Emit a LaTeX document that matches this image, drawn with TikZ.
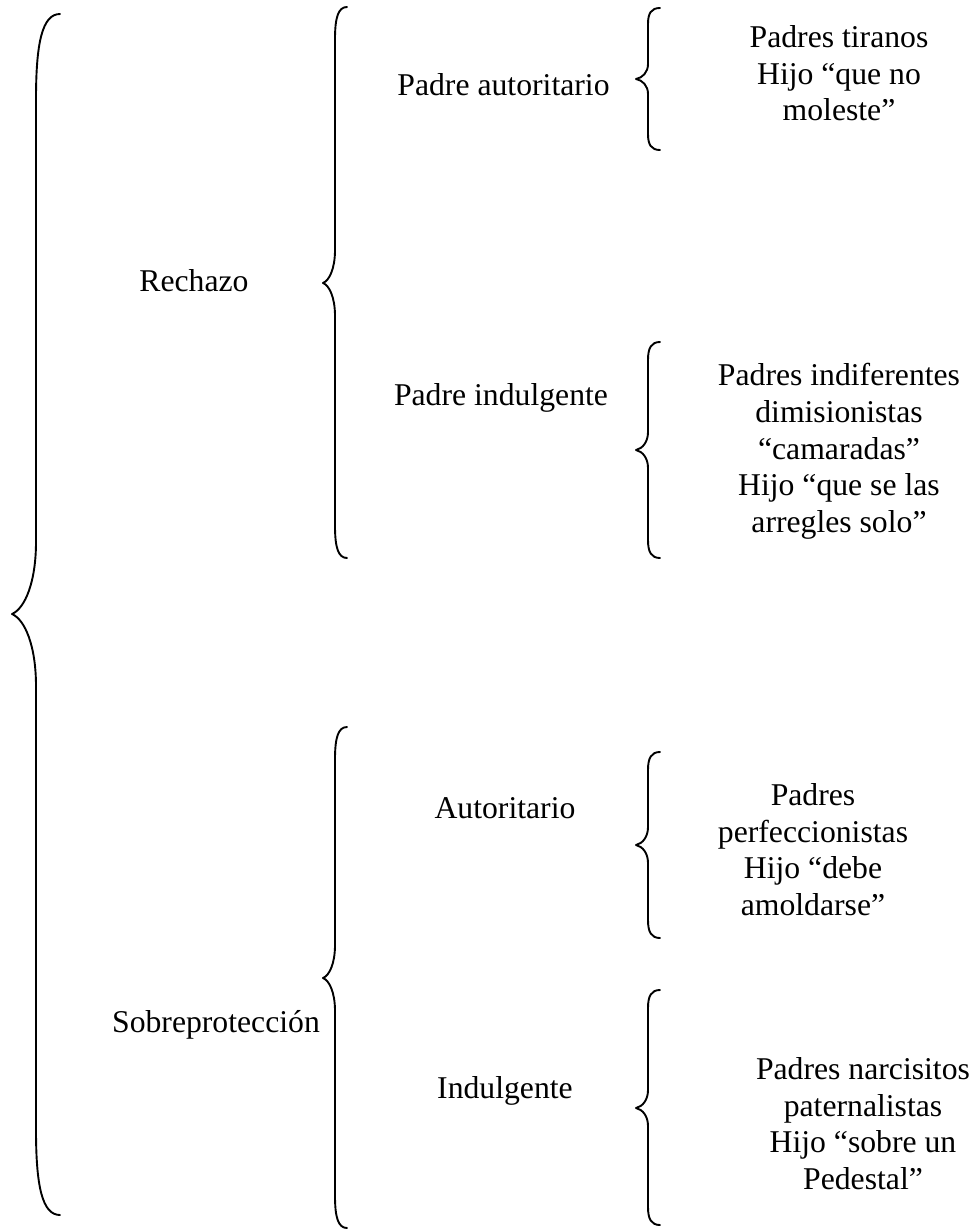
\documentclass[tikz,border=0pt]{standalone}
\usepackage{fontspec}
\setmainfont{Liberation Serif}
\tikzset{
  bracestyle/.style={line width=1.9pt, line cap=round, line join=round},
  txt/.style={font=\fontsize{31.7}{36.6}\selectfont, align=center, inner sep=0pt}
}
% #1 spine x, #2 top y, #3 tip y, #4 bottom y, #5 half width, #6 end curve length, #7 tip curve length
\newcommand\cbrace[7]{%
  \draw[bracestyle] (#1+#5,#2) .. controls (#1+0.25*#5,#2) and (#1,#2+0.35*#6) .. (#1,#2+#6)
    -- (#1,#3-#7) .. controls (#1,#3-0.45*#7) and (#1-0.45*#5,#3-0.08*#7) .. (#1-#5,#3)
    .. controls (#1-0.45*#5,#3+0.08*#7) and (#1,#3+0.45*#7) .. (#1,#3+#7)
    -- (#1,#4-#6) .. controls (#1,#4-0.35*#6) and (#1+0.25*#5,#4) .. (#1+#5,#4);}
\begin{document}
\begin{tikzpicture}[x=1pt,y=-1pt]
\useasboundingbox (0,0) rectangle (977,1230);
% braces
\cbrace{36}{14}{614}{1215}{24}{85}{72}
\cbrace{335}{7}{283}{558}{12}{32}{33}
\cbrace{335}{727}{978}{1228}{12}{32}{33}
\cbrace{648}{8}{79}{150}{12}{16}{15}
\cbrace{648}{342}{450}{558}{12}{18}{18}
\cbrace{648}{752}{845}{938}{12}{18}{18}
\cbrace{648}{990}{1108}{1225}{12}{18}{18}
% labels
\node[txt, anchor=base] (rech) at (194,291) {Rechazo};
\node[txt, anchor=base] (sobre) at (216,1032) {Sobreprotección};
\node[txt, anchor=base] (paut) at (503.5,96) {Padre autoritario};
\node[txt, anchor=base] (pind) at (501,405) {Padre indulgente};
\node[txt, anchor=base] (aut) at (505,818) {Autoritario};
\node[txt, anchor=base] (ind) at (505,1098) {Indulgente};
\node[txt, anchor=north] (b1) at (839,25.3) {Padres tiranos\\Hijo “que no\\moleste”};
\node[txt, anchor=north] (b2) at (839,363.3) {Padres indiferentes\\dimisionistas\\“camaradas”\\Hijo “que se las\\arregles solo”};
\node[txt, anchor=north] (b3) at (813,783.3) {Padres\\perfeccionistas\\Hijo “debe\\amoldarse”};
\node[txt, anchor=north] (b4) at (863,1057.3) {Padres narcisitos\\paternalistas\\Hijo “sobre un\\Pedestal”};
\end{tikzpicture}
\end{document}
